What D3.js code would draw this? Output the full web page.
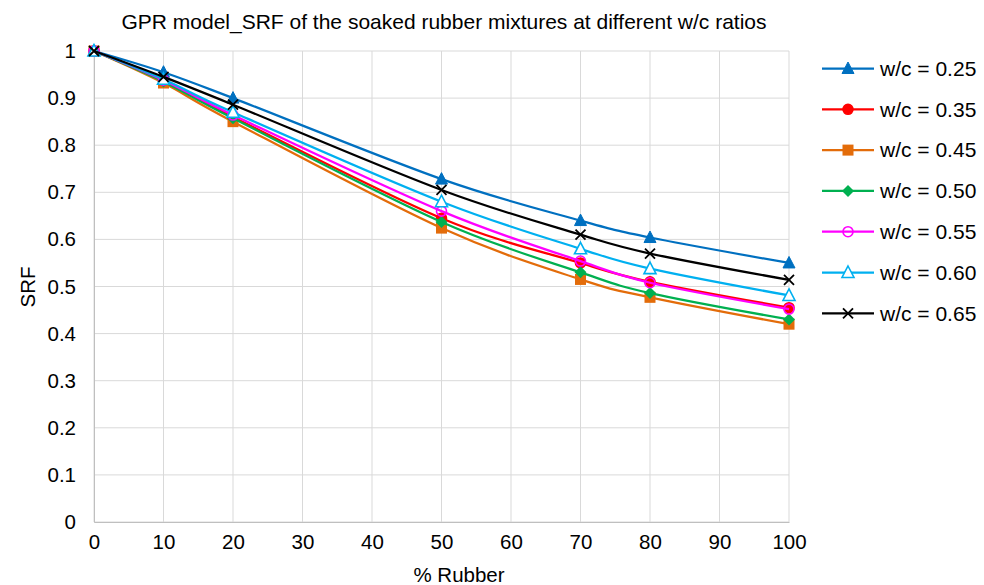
<!DOCTYPE html>
<html><head><meta charset="utf-8">
<script src="https://cdn.jsdelivr.net/npm/d3@7"></script>
<style>body{margin:0;background:#fff}</style>
</head><body>
<svg id="c" width="984" height="585"></svg>
<script>
const rubber = [0, 10, 20, 50, 70, 80, 100];
const seriesNames = ["w/c = 0.25","w/c = 0.35","w/c = 0.45","w/c = 0.50","w/c = 0.55","w/c = 0.60","w/c = 0.65"];
const wc025 = [1, 0.955, 0.900, 0.728, 0.640, 0.604, 0.550];
const wc035 = [1, 0.937, 0.860, 0.645, 0.550, 0.510, 0.455];
const wc045 = [1, 0.932, 0.850, 0.624, 0.515, 0.477, 0.420];
const wc050 = [1, 0.935, 0.857, 0.637, 0.530, 0.486, 0.430];
const wc055 = [1, 0.938, 0.864, 0.660, 0.554, 0.508, 0.452];
const wc060 = [1, 0.940, 0.870, 0.680, 0.580, 0.538, 0.481];
const wc065 = [1, 0.945, 0.886, 0.705, 0.610, 0.570, 0.514];
const xTicks = [0,10,20,30,40,50,60,70,80,90,100];
const yTicks = [0,0.1,0.2,0.3,0.4,0.5,0.6,0.7,0.8,0.9,1];

const seriesValues = [wc025, wc035, wc045, wc050, wc055, wc060, wc065];
const colors = ["#0070C0","#FF0000","#E36C0A","#00B050","#FF00FF","#00B0F0","#000000"];
const markers = ["triF","circF","sqF","diaF","circO","triO","x"];

const svg = d3.select("#c");
const font = "Liberation Sans, Arial, sans-serif";
const x = d3.scaleLinear().domain([0,100]).range([94,789]);
const y = d3.scaleLinear().domain([0,1]).range([522,51]);

// grid
svg.append("g").selectAll("line.h").data(yTicks).join("line")
  .attr("x1",x(0)).attr("x2",x(100)).attr("y1",d=>y(d)).attr("y2",d=>y(d))
  .attr("stroke","#d9d9d9").attr("stroke-width",1);
svg.append("g").selectAll("line.v").data(xTicks).join("line")
  .attr("y1",y(0)).attr("y2",y(1)).attr("x1",d=>x(d)).attr("x2",d=>x(d))
  .attr("stroke","#d9d9d9").attr("stroke-width",1);

// axes
const xAxis = svg.append("g").attr("transform",`translate(0,${y(0)})`)
  .call(d3.axisBottom(x).tickValues(xTicks).tickSize(0).tickPadding(12).tickFormat(d3.format("d")));
xAxis.select(".domain").attr("stroke","#bfbfbf");
const yAxis = svg.append("g").attr("transform",`translate(${x(0)},0)`)
  .call(d3.axisLeft(y).tickValues(yTicks).tickSize(0).tickPadding(18).tickFormat(d=>d===0?"0":d===1?"1":d3.format(".1f")(d)));
yAxis.select(".domain").attr("stroke","#bfbfbf");
svg.selectAll(".tick text").attr("font-family",font).attr("font-size",20.5).attr("fill","#000");

// lines
const line = d3.line().x((d,i)=>x(rubber[i])).y(d=>y(d)).curve(d3.curveCatmullRom.alpha(0));

function drawMarker(g, type, cx, cy, color){
  const s = 5.5;
  if(type==="triF"||type==="triO"){
    g.append("path").attr("d",`M${cx},${cy-s-1}L${cx+s+0.5},${cy+s-0.5}L${cx-s-0.5},${cy+s-0.5}Z`)
      .attr("fill",type==="triF"?color:"#fff").attr("stroke",color).attr("stroke-width",type==="triF"?1:1.6);
  } else if(type==="circF"||type==="circO"){
    g.append("circle").attr("cx",cx).attr("cy",cy).attr("r",s-0.5)
      .attr("fill",type==="circF"?color:"none").attr("stroke",color).attr("stroke-width",1.6);
  } else if(type==="sqF"){
    g.append("rect").attr("x",cx-s).attr("y",cy-s).attr("width",2*s).attr("height",2*s).attr("fill",color);
  } else if(type==="diaF"){
    g.append("path").attr("d",`M${cx},${cy-s-0.5}L${cx+s+0.5},${cy}L${cx},${cy+s+0.5}L${cx-s-0.5},${cy}Z`).attr("fill",color);
  } else if(type==="x"){
    const k=s-0.5;
    g.append("path").attr("d",`M${cx-k},${cy-k}L${cx+k},${cy+k}M${cx-k},${cy+k}L${cx+k},${cy-k}`)
      .attr("stroke",color).attr("stroke-width",1.8);
  }
}

seriesValues.forEach((vals,si)=>{
  const g = svg.append("g");
  g.append("path").attr("d",line(vals)).attr("fill","none").attr("stroke",colors[si]).attr("stroke-width",2.25);
  vals.forEach((v,i)=>drawMarker(g, markers[si], x(rubber[i]), y(v), colors[si]));
});

// legend
const legY0 = 68.5, legDy = 40.8;
seriesNames.forEach((n,i)=>{
  const g = svg.append("g");
  const ly = legY0 + i*legDy;
  g.append("line").attr("x1",822).attr("x2",874).attr("y1",ly).attr("y2",ly).attr("stroke",colors[i]).attr("stroke-width",2.25);
  drawMarker(g, markers[i], 848, ly, colors[i]);
  g.append("text").attr("x",880).attr("y",ly).attr("dy","0.35em").attr("font-family",font).attr("font-size",21).text(n);
});

// titles
svg.append("text").attr("x",444).attr("y",29).attr("text-anchor","middle").attr("font-family",font).attr("font-size",21).text("GPR model_SRF of the soaked rubber mixtures at different w/c ratios");
svg.append("text").attr("x",459).attr("y",582).attr("text-anchor","middle").attr("font-family",font).attr("font-size",20.5).text("% Rubber");
svg.append("text").attr("transform","translate(35,287) rotate(-90)").attr("text-anchor","middle").attr("font-family",font).attr("font-size",20.5).text("SRF");
</script>
</body></html>
